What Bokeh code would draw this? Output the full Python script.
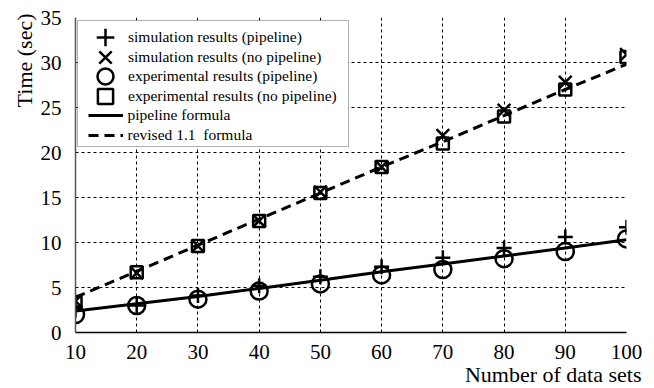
from bokeh.plotting import figure
from bokeh.models import Range1d, FixedTicker, Legend, LegendItem, Title, BoxAnnotation
from bokeh.embed import file_html
from bokeh.resources import INLINE

# ---- data ----
data_sets = [10, 20, 30, 40, 50, 60, 70, 80, 90, 100]
sim_pipeline = [2.5, 3.0, 4.1, 5.2, 6.2, 7.3, 8.3, 9.4, 10.6, 11.7]
sim_no_pipeline = [3.5, 6.6, 9.6, 12.4, 15.6, 18.4, 21.9, 24.7, 27.8, 30.9]
exp_pipeline = [2.0, 3.0, 3.7, 4.6, 5.4, 6.4, 7.0, 8.2, 9.0, 10.4]
exp_no_pipeline = [3.4, 6.7, 9.6, 12.4, 15.5, 18.4, 21.0, 24.0, 27.0, 30.6]
pipeline_formula = [2.4, 3.2, 4.0, 4.9, 5.8, 6.75, 7.6, 8.5, 9.4, 10.3]
revised_formula = [3.9, 6.8, 9.7, 12.6, 15.5, 18.4, 21.2, 24.1, 27.0, 29.8]

x_ticks = [10, 20, 30, 40, 50, 60, 70, 80, 90, 100]
y_ticks = [0, 5, 10, 15, 20, 25, 30, 35]

labels = [
    "simulation results (pipeline)",
    "simulation results (no pipeline)",
    "experimental results (pipeline)",
    "experimental results (no pipeline)",
    "pipeline formula",
    "revised 1.1  formula",
]
x_title = "Number of data sets"
y_title = "Time (sec)"

FONT = "Liberation Serif"
W, H = 654, 388

p = figure(width=W, height=H,
           x_range=Range1d(10, 100), y_range=Range1d(0, 35),
           output_backend="svg", toolbar_location=None,
           min_border_left=75, min_border_right=28,
           min_border_top=17, min_border_bottom=56)

p.background_fill_color = "white"
p.border_fill_color = "white"
p.outline_line_color = None

p.xaxis.ticker = FixedTicker(ticks=x_ticks)
p.yaxis.ticker = FixedTicker(ticks=y_ticks)
for ax in (p.xaxis, p.yaxis):
    ax.major_tick_in = 0
    ax.major_tick_out = 0
    ax.minor_tick_in = 0
    ax.minor_tick_out = 0
    ax.major_label_text_font = FONT
    ax.major_label_text_font_size = "21px"
    ax.major_label_text_color = "black"
p.xaxis.major_label_standoff = 12
p.yaxis.major_label_standoff = 14
p.xaxis.axis_line_color = "black"
p.xaxis.axis_line_width = 1.5
p.yaxis.axis_line_color = "#555555"
p.yaxis.axis_line_width = 1.5

p.grid.grid_line_color = "black"
p.grid.grid_line_width = 1
p.grid.grid_line_dash = "3 3"

# lines
r_pf = p.line(data_sets, pipeline_formula, line_color="black", line_width=3)
r_rf = p.line(data_sets, revised_formula, line_color="black", line_width=3,
              line_dash="10 6")

# markers
r_sp = p.scatter(data_sets, sim_pipeline, marker="cross", size=15,
                 line_color="black", line_width=2.5, fill_color=None)
r_snp = p.scatter(data_sets, sim_no_pipeline, marker="x", size=18,
                  line_color="black", line_width=2.5, fill_color=None)
r_ep = p.scatter(data_sets, exp_pipeline, marker="circle", size=17,
                 line_color="black", line_width=2.5, fill_color=None)
r_enp = p.scatter(data_sets, exp_no_pipeline, marker="square", size=12,
                  line_color="black", line_width=2.5, fill_color=None)

# legend frame
box = BoxAnnotation(left=2, right=273, top=312, bottom=186,
                    left_units="screen", right_units="screen",
                    top_units="screen", bottom_units="screen",
                    fill_color="white", fill_alpha=1.0,
                    line_color="black", line_width=1)
p.add_layout(box)

# one legend per entry, so that each key can have the reference's size
entries = [
    # renderer, glyph w, glyph h, row centre (screen y in frame), label standoff
    (r_sp, 44, 44, 295.0, 1),
    (r_snp, 44, 44, 275.4, 1),
    (r_ep, 40, 40, 255.8, 3),
    (r_enp, 38, 38, 236.2, 4),
    (r_pf, 35, 20, 216.6, 5),
    (r_rf, 35, 20, 197.0, 5),
]
for lab, (rend, gw, gh, cy, st) in zip(labels, entries):
    lg = Legend(items=[LegendItem(label=lab, renderers=[rend])],
                location=(30 - gw / 2, cy - gh / 2),
                glyph_width=gw, glyph_height=gh, spacing=0,
                padding=0, margin=0, label_standoff=st, label_height=16,
                label_text_font=FONT, label_text_font_size="15.5px",
                label_text_color="black", label_text_baseline="middle",
                border_line_color=None, background_fill_alpha=0)
    p.add_layout(lg)

# axis titles as side-panel titles (not clipped by the frame)
p.add_layout(Title(text=y_title, align="right", offset=-4, standoff=0,
                   vertical_align="middle", text_font=FONT,
                   text_font_size="22px", text_font_style="normal",
                   text_color="black"), "left")
p.add_layout(Title(text=x_title, align="right", offset=-15, standoff=0,
                   vertical_align="top", text_font=FONT,
                   text_font_size="22px", text_font_style="normal",
                   text_color="black"), "below")

open("out.html", "w").write(file_html(p, INLINE))
